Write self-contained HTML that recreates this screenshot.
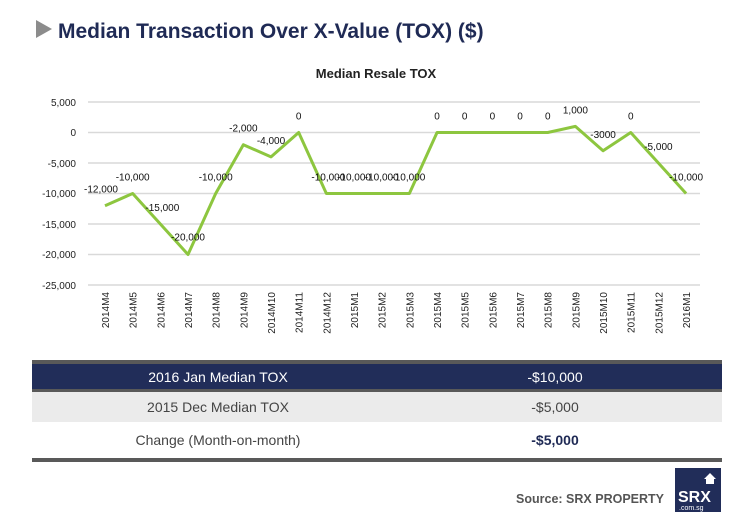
<!DOCTYPE html>
<html><head><meta charset="utf-8"><style>
body{margin:0;background:#fff;}
svg{display:block;font-family:"Liberation Sans",Arial,sans-serif;}
</style></head><body>
<svg width="744" height="519" viewBox="0 0 744 519">
<polygon points="36,20 36,38 52,29" fill="#8c8c8c"/>
<text x="58" y="38" font-size="21" font-weight="bold" fill="#1f2a55">Median Transaction Over X-Value (TOX) ($)</text>
<text x="376" y="78" font-size="13" font-weight="bold" fill="#222" text-anchor="middle">Median Resale TOX</text>
<g stroke="#d9d9d9" stroke-width="1.5">
<line x1="88" x2="700" y1="102" y2="102"/><line x1="88" x2="700" y1="132.5" y2="132.5"/>
<line x1="88" x2="700" y1="163" y2="163"/><line x1="88" x2="700" y1="193.5" y2="193.5"/>
<line x1="88" x2="700" y1="224" y2="224"/><line x1="88" x2="700" y1="254.5" y2="254.5"/>
<line x1="88" x2="700" y1="285" y2="285"/>
</g>
<g font-size="10" fill="#222" text-anchor="end">
<text x="76" y="106">5,000</text><text x="76" y="136">0</text><text x="76" y="167">-5,000</text>
<text x="76" y="197">-10,000</text><text x="76" y="228">-15,000</text><text x="76" y="258">-20,000</text><text x="76" y="289">-25,000</text>
</g>
<g id="xl" font-size="10" fill="#222" text-anchor="end"></g>
<polyline id="ln" fill="none" stroke="#8dc63f" stroke-width="3" stroke-linejoin="round"/>
<g id="dl" font-size="10" fill="#111" text-anchor="middle"></g>
<rect x="32" y="360" width="690" height="4" fill="#595959"/>
<rect x="32" y="364" width="690" height="25" fill="#212d59"/>
<rect x="32" y="389" width="690" height="3" fill="#595959"/>
<rect x="32" y="392" width="690" height="30" fill="#ebebeb"/>
<rect x="32" y="458" width="690" height="4" fill="#595959"/>
<g font-size="14" text-anchor="middle">
<text x="218" y="382" fill="#fff">2016 Jan Median TOX</text>
<text x="555" y="382" fill="#fff">-$10,000</text>
<text x="218" y="412" fill="#444">2015 Dec Median TOX</text>
<text x="555" y="412" fill="#444">-$5,000</text>
<text x="218" y="445" fill="#444">Change (Month-on-month)</text>
<text x="555" y="445" fill="#1f2a55" font-weight="bold">-$5,000</text>
</g>
<text x="664" y="503" font-size="12.5" font-weight="bold" fill="#555" text-anchor="end">Source:  SRX PROPERTY</text>
<rect x="675" y="468" width="46" height="44" fill="#212d59"/>
<polygon points="710,473 704,479 706,479 706,484 714,484 714,479 716,479" fill="#fff"/>
<text x="678" y="502" font-size="16" font-weight="bold" fill="#fff">SRX</text>
<text x="679" y="510" font-size="7" fill="#fff">.com.sg</text>
</svg>
<script>
var labs=["2014M4","2014M5","2014M6","2014M7","2014M8","2014M9","2014M10","2014M11","2014M12","2015M1","2015M2","2015M3","2015M4","2015M5","2015M6","2015M7","2015M8","2015M9","2015M10","2015M11","2015M12","2016M1"];
var v=[-12000,-10000,-15000,-20000,-10000,-2000,-4000,0,-10000,-10000,-10000,-10000,0,0,0,0,0,1000,-3000,0,-5000,-10000];
var dt=["-12,000","-10,000","-15,000","-20,000","-10,000","-2,000","-4,000","0","-10,000","-10,000","-10,000","-10,000","0","0","0","0","0","1,000","-3000","0","-5,000","-10,000"];
var ns="http://www.w3.org/2000/svg",pts=[],xl=document.getElementById("xl"),dl=document.getElementById("dl");
for(var i=0;i<22;i++){var x=105+i*27.67,y=132.5-v[i]*0.0061;pts.push(x+","+y);
var t=document.createElementNS(ns,"text");t.setAttribute("transform","translate("+(x+4)+",292) rotate(-90)");t.textContent=labs[i];xl.appendChild(t);
var d=document.createElementNS(ns,"text");var dy=(i==3)?y-0:y-13;var dx=x;if(i==0)dx=x-4;if(i==2)dx=x+2;if(i==3){dy=y-14;}
if(i==8)dx=x+2;if(i==11)dx=x-1;
d.setAttribute("x",dx);d.setAttribute("y",dy);d.textContent=dt[i];dl.appendChild(d);}
document.getElementById("ln").setAttribute("points",pts.join(" "));
</script>
</body></html>
